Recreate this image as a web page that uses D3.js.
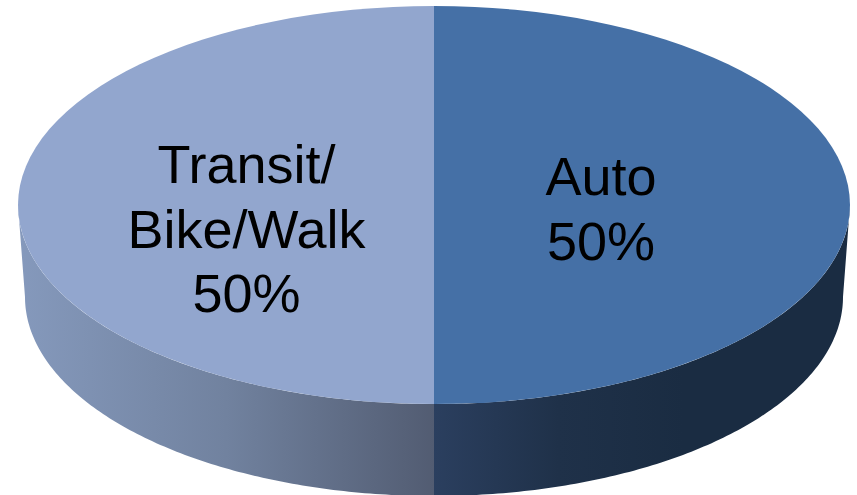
<!DOCTYPE html>
<html>
<head>
<meta charset="utf-8">
<script src="https://cdn.jsdelivr.net/npm/d3@7/dist/d3.min.js"></script>
<style>html,body{margin:0;padding:0;background:#fff;overflow:hidden}svg{display:block}</style>
</head>
<body>
<script>
const categories = ["Auto", "Transit/Bike/Walk"];
const values = [50, 50];
const labelLines = [["Auto", "50%"], ["Transit/", "Bike/Walk", "50%"]];
const topColors = ["#4570a6", "#92a6ce"];
const sideStops = [
  [["0%", "#2b3f5f"], ["30%", "#1f3149"], ["60%", "#1a2c42"], ["100%", "#1a2c42"]],
  [["0%", "#8599bc"], ["50%", "#71829f"], ["100%", "#525c72"]]
];

const W = 857, H = 495;
const top_ = {cx: 434, cy: 205, rx: 416, ry: 199};
const bot = {cx: 434, cy: 297, rx: 409, ry: 199};
const labelPos = [{x: 601, y: 195}, {x: 246.5, y: 183}];
const lineHeight = 64.5;

const svg = d3.select("body").append("svg").attr("width", W).attr("height", H);
const defs = svg.append("defs");
const arcs = d3.pie().sort(null).value(d => d)(values);

const pt = (e, a) => [e.cx + e.rx * Math.sin(a), e.cy - e.ry * Math.cos(a)];
const line = d3.line();

arcs.forEach((d, i) => {
  const a0 = Math.max(d.startAngle, Math.PI / 2);
  const a1 = Math.min(d.endAngle, 3 * Math.PI / 2);
  const angles = d3.range(0, 121).map(k => a0 + (a1 - a0) * k / 120);
  const g = defs.append("linearGradient").attr("id", "side" + i)
    .attr("gradientUnits", "userSpaceOnUse")
    .attr("x1", i === 0 ? top_.cx : top_.cx - top_.rx).attr("x2", i === 0 ? top_.cx + top_.rx : top_.cx)
    .attr("y1", 0).attr("y2", 0);
  sideStops[i].forEach(s => g.append("stop").attr("offset", s[0]).attr("stop-color", s[1]));
  const pts = angles.map(a => pt(top_, a)).concat(angles.slice().reverse().map(a => pt(bot, a)));
  svg.append("path").attr("class", "side").attr("d", line(pts) + "Z").attr("fill", `url(#side${i})`);
});

const arc = d3.arc().innerRadius(0).outerRadius(1);
svg.append("g")
  .attr("transform", `translate(${top_.cx},${top_.cy}) scale(${top_.rx},${top_.ry})`)
  .selectAll("path").data(arcs).join("path")
  .attr("d", arc).attr("fill", (d, i) => topColors[i]);

labelLines.forEach((lines, i) => {
  const t = svg.append("text").attr("text-anchor", "middle")
    .attr("font-family", "'Liberation Sans', Arial, sans-serif")
    .attr("font-size", 54).attr("fill", "#000");
  lines.forEach((s, j) => t.append("tspan").attr("x", labelPos[i].x)
    .attr("y", labelPos[i].y + j * lineHeight).text(s));
});
</script>
</body>
</html>
